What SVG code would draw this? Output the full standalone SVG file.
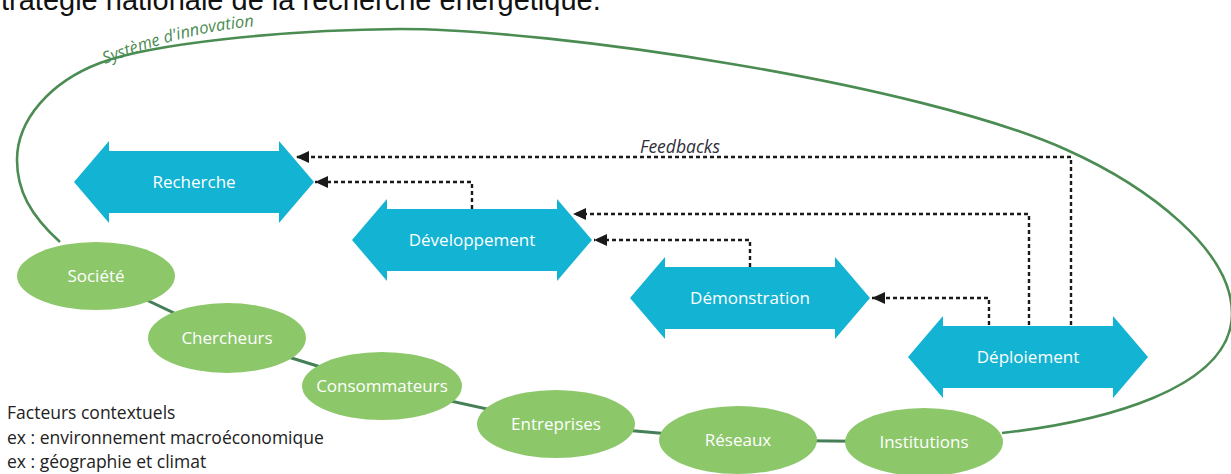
<svg xmlns="http://www.w3.org/2000/svg" xmlns:xlink="http://www.w3.org/1999/xlink" width="1231" height="474" viewBox="0 0 1231 474">
<style>
.title{font-family:"Liberation Sans",Arial,sans-serif;font-size:29px;fill:#111}
.lbl{font-family:"Open Sans","Liberation Sans",sans-serif;font-size:17px;fill:#ffffff;text-anchor:middle}
.stage{fill:#12b3d3}
.actor{fill:#8cc76a}
.chain{stroke:#457f58;stroke-width:3;fill:none}
.sys{stroke:#4b8c52;stroke-width:2.6;fill:none}
.sysl{font-family:"Open Sans","Liberation Sans",sans-serif;font-size:16.5px;font-style:italic;fill:#4b8c52}
.fb{stroke:#1a1a1a;stroke-width:2.4;stroke-dasharray:4 3;fill:none;marker-end:url(#ah)}
.fbl{font-family:"Open Sans","Liberation Sans",sans-serif;font-size:17.5px;font-style:italic;fill:#2e2e38;text-anchor:middle}
.ctx{font-family:"Open Sans","Liberation Sans",sans-serif;font-size:17.5px;fill:#222}
</style>
<defs>
<marker id="ah" viewBox="0 0 13 12" refX="13" refY="6" markerWidth="13" markerHeight="12" markerUnits="userSpaceOnUse" orient="auto">
<path d="M0,0 L13,6 L0,12 z" fill="#1a1a1a"/>
</marker>
<path id="dbl" d="M0,0 L35,-41 L35,-31 L205,-31 L205,-41 L240,0 L205,41 L205,31 L35,31 L35,41 z"/>
<path id="sysPath" d="M105,64 C135,53 185,32 258,26"/>
</defs>

<text class="title" x="1" y="10">tratégie nationale de la recherche énergétique.</text>

<g id="systeme-innovation">
<path class="sys" d="M60,242 C30,215 17,190 17,160 C17,120 50,82 100,63 C150,44 280,30 400,29 C550,29 917,82.5 1067,150 C1147,186 1233,250 1232,315 C1230,390 1100,422 1002,433"/>
<text class="sysl"><textPath xlink:href="#sysPath" href="#sysPath">Système d'innovation</textPath></text>
</g>

<g id="connectors">
<polyline class="chain" points="96,276 227,338 382,386 556,424 738,440 924,442"/>
<path class="fb" d="M1071,325 V157 H296"/>
<path class="fb" d="M1029,325 V214 H573"/>
<path class="fb" d="M989,325 V298 H872"/>
<path class="fb" d="M750,267 V240 H594"/>
<path class="fb" d="M472,209 V182 H315"/>
<text class="fbl" x="680" y="153">Feedbacks</text>
</g>

<g id="recherche">
<use href="#dbl" xlink:href="#dbl" class="stage" transform="translate(74,182)"/>
<text class="lbl" x="194" y="188">Recherche</text>
</g>
<g id="developpement">
<use href="#dbl" xlink:href="#dbl" class="stage" transform="translate(352,240)"/>
<text class="lbl" x="472" y="246">Développement</text>
</g>
<g id="demonstration">
<use href="#dbl" xlink:href="#dbl" class="stage" transform="translate(630,298)"/>
<text class="lbl" x="750" y="304">Démonstration</text>
</g>
<g id="deploiement">
<use href="#dbl" xlink:href="#dbl" class="stage" transform="translate(908,357)"/>
<text class="lbl" x="1028" y="363">Déploiement</text>
</g>

<g id="societe">
<ellipse class="actor" cx="96" cy="276" rx="79" ry="34"/>
<text class="lbl" x="96" y="282">Société</text>
</g>
<g id="chercheurs">
<ellipse class="actor" cx="227" cy="338" rx="79" ry="35"/>
<text class="lbl" x="227" y="344">Chercheurs</text>
</g>
<g id="consommateurs">
<ellipse class="actor" cx="382" cy="386" rx="80" ry="34"/>
<text class="lbl" x="382" y="392">Consommateurs</text>
</g>
<g id="entreprises">
<ellipse class="actor" cx="556" cy="424" rx="79" ry="34"/>
<text class="lbl" x="556" y="430">Entreprises</text>
</g>
<g id="reseaux">
<ellipse class="actor" cx="738" cy="440" rx="79" ry="34"/>
<text class="lbl" x="738" y="446">Réseaux</text>
</g>
<g id="institutions">
<ellipse class="actor" cx="924" cy="442" rx="79" ry="34"/>
<text class="lbl" x="924" y="448">Institutions</text>
</g>

<g id="facteurs-contextuels">
<text class="ctx" x="7" y="419">Facteurs contextuels</text>
<text class="ctx" x="7" y="444">ex : environnement macroéconomique</text>
<text class="ctx" x="7" y="468">ex : géographie et climat</text>
</g>
</svg>
